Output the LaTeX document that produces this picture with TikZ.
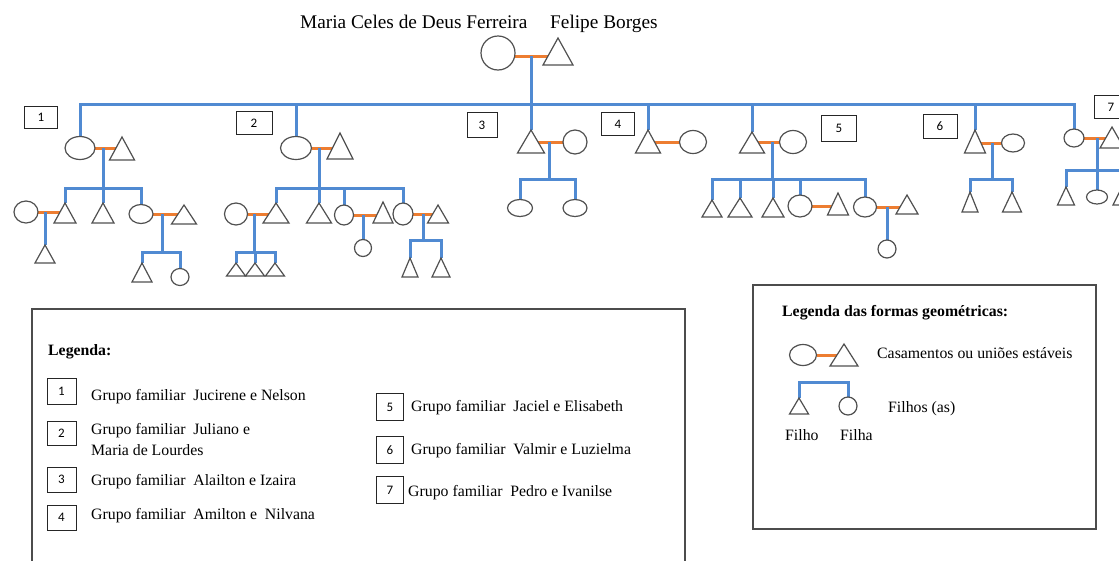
\documentclass[tikz,border=0pt]{standalone}
\usepackage{fontspec}
\setmainfont{Liberation Serif}
\newfontfamily\numfont{Carlito}
\usetikzlibrary{shapes.geometric,backgrounds}
\definecolor{kinblue}{RGB}{80,138,210}
\definecolor{wedorange}{RGB}{237,125,49}
\definecolor{outline}{RGB}{80,80,80}
\tikzset{
  fem/.style 2 args={ellipse, draw=outline, fill=white, line width=1.2pt,
    inner sep=0pt, outer sep=0pt, minimum width=#1, minimum height=#2},
  mas/.style 2 args={isosceles triangle, isosceles triangle stretches,
    shape border rotate=90, draw=outline, fill=white, line width=1.2pt,
    inner sep=0pt, outer sep=0pt, minimum width=#1, minimum height=#2, anchor=apex},
  kin/.style={draw=kinblue, line width=3pt},
  wed/.style={draw=wedorange, line width=3pt},
  numbox/.style 2 args={draw=black!85, line width=1pt, fill=white, inner sep=0pt,
    minimum width=#1, minimum height=#2, font=\numfont\fontsize{13}{15}\selectfont},
  legframe/.style={draw=black!70, line width=1.2pt, inner sep=0pt},
  lbl/.style={anchor=base west, inner sep=0pt, font=\fontsize{15.8}{18}\selectfont},
  legtitle/.style={anchor=base west, inner sep=0pt, font=\bfseries\fontsize{15.8}{18}\selectfont},
  founder/.style={anchor=base west, inner sep=0pt, font=\fontsize{19.3}{22}\selectfont},
}
\begin{document}
\begin{tikzpicture}[x=1pt, y=-1pt]
\useasboundingbox (0,0) rectangle (1119,560);

% ---- founding couple ----
\node[founder] (n-maria) at (300,28) {Maria Celes de Deus Ferreira};
\node[founder] (n-felipe) at (550,28) {Felipe Borges};
\node[fem={34pt}{34pt}] (F0) at (498,53) {};
\node[mas={30pt}{27pt}] (M0) at (558,38) {};
\coordinate (m0) at (531,56);
\coordinate (tb) at (0,104);

% ---- group 1 ----
\node[numbox={33pt}{22pt}] (g1) at (41,117) {1};
\node[fem={30pt}{23pt}] (G1f) at (80,148) {};
\node[mas={25pt}{23pt}] (G1m) at (122,137) {};
\coordinate (m1) at (G1f -| 103,0);
\coordinate (b1) at (0,188);
\node[fem={24pt}{22pt}] (A1s) at (26,212) {};
\node[mas={22pt}{20pt}] (A1) at (65,203) {};
\node[mas={22pt}{20pt}] (A2) at (103,203) {};
\node[fem={24pt}{19pt}] (A3f) at (141,214) {};
\node[mas={25pt}{19pt}] (A3m) at (184,205) {};
\coordinate (m11) at (A1s -| 45,0);
\node[mas={20pt}{18pt}] (A11) at (45,245) {};
\coordinate (m13) at (A3f -| 162,0);
\coordinate (b13) at (0,252);
\node[mas={20pt}{19pt}] (A31) at (142,263) {};
\node[fem={18pt}{17pt}] (A32) at (180,277) {};

% ---- group 2 ----
\node[numbox={36pt}{23pt}] (g2) at (254,123) {2};
\node[fem={31pt}{23pt}] (G2f) at (296,148) {};
\node[mas={26pt}{26pt}] (G2m) at (340,133) {};
\coordinate (m2) at (G2f -| 319,0);
\coordinate (b2) at (0,188);
\node[fem={23pt}{22pt}] (B1s) at (236,214) {};
\node[mas={26pt}{20pt}] (B1) at (276,203) {};
\node[mas={25pt}{20pt}] (B2) at (319,203) {};
\node[fem={19pt}{20pt}] (B3f) at (344,215) {};
\node[mas={20pt}{21pt}] (B3m) at (383,202) {};
\node[fem={20pt}{22pt}] (B4f) at (403,214) {};
\node[mas={21pt}{18pt}] (B4m) at (438,205) {};
\coordinate (m21) at (B1s -| 254,0);
\coordinate (b21) at (0,252);
\node[mas={19pt}{13pt}] (B11) at (236,263) {};
\node[mas={19pt}{13pt}] (B12) at (255,263) {};
\node[mas={19pt}{13pt}] (B13) at (275,263) {};
\coordinate (m23) at (B3f -| 363,0);
\node[fem={17pt}{17pt}] (B31) at (363,248) {};
\coordinate (m24) at (B4f -| 423,0);
\coordinate (b24) at (0,240);
\node[mas={16pt}{19pt}] (B41) at (410,258) {};
\node[mas={18pt}{19pt}] (B42) at (441,258) {};

% ---- group 3 ----
\node[numbox={30pt}{25pt}] (g3) at (482,125) {3};
\node[mas={27pt}{23pt}] (G3m) at (531,130) {};
\node[fem={24pt}{24pt}] (G3f) at (575,142) {};
\coordinate (m3) at (G3f -| 549,0);
\coordinate (b3) at (0,179);
\node[fem={25pt}{17pt}] (C1) at (520,208) {};
\node[fem={24pt}{17pt}] (C2) at (575,208) {};

% ---- group 4 ----
\node[numbox={33pt}{23pt}] (g4) at (618,124) {4};
\node[mas={25pt}{23pt}] (G4m) at (648,130) {};
\node[fem={27pt}{23pt}] (G4f) at (693,142) {};

% ---- group 5 ----
\node[numbox={35pt}{26pt}] (g5) at (839,128) {5};
\node[mas={25pt}{21pt}] (G5m) at (752,132) {};
\node[fem={27pt}{23pt}] (G5f) at (793,142) {};
\coordinate (m5) at (G5f -| 772,0);
\coordinate (b5) at (0,179);
\node[mas={20pt}{17pt}] (E1) at (712,200) {};
\node[mas={24pt}{19pt}] (E2) at (740,198) {};
\node[mas={22pt}{19pt}] (E3) at (773,198) {};
\node[fem={24pt}{22pt}] (E4f) at (800,206) {};
\node[mas={21pt}{22pt}] (E4m) at (838,193) {};
\node[fem={23pt}{20pt}] (E5f) at (865,207) {};
\node[mas={22pt}{19pt}] (E5m) at (907,195) {};
\coordinate (m55) at (E5f -| 887,0);
\node[fem={18pt}{18pt}] (E51) at (887,249) {};

% ---- group 6 ----
\node[numbox={34pt}{24pt}] (g6) at (940,126) {6};
\node[mas={21pt}{23pt}] (G6m) at (975,130) {};
\node[fem={23pt}{18pt}] (G6f) at (1013,143) {};
\coordinate (m6) at (G6f -| 992,0);
\coordinate (b6) at (0,179);
\node[mas={16pt}{20pt}] (D1) at (970,192) {};
\node[mas={19pt}{20pt}] (D2) at (1012,192) {};

% ---- group 7 ----
\node[numbox={34pt}{23pt}] (g7) at (1111,107) {7};
\node[fem={20pt}{18pt}] (G7f) at (1074,138) {};
\node[mas={24pt}{21pt}] (G7m) at (1112,127) {};
\coordinate (m7) at (G7f -| 1097,0);
\coordinate (b7) at (0,170);
\node[mas={17pt}{18pt}] (H1) at (1066,187) {};
\node[fem={21pt}{14pt}] (H2) at (1097,197) {};
\node[mas={18pt}{18pt}] (H3) at (1122,187) {};

% ---- legend of the family groups ----
\node[legframe, minimum width=653pt, minimum height=275pt] (legA) at (358.5,446.5) {};
\node[legtitle] (legA-title) at (48,355) {Legenda:};
\node[numbox={29pt}{26pt}] (k1) at (61.5,391.5) {1};
\node[numbox={29pt}{24pt}] (k2) at (61.5,433.5) {2};
\node[numbox={29pt}{25pt}] (k3) at (61.5,479.5) {3};
\node[numbox={29pt}{25pt}] (k4) at (61.5,517.5) {4};
\node[lbl] (k1t) at (91,400) {Grupo familiar\ \ Jucirene e Nelson};
\node[lbl] (k2t) at (91,434) {Grupo familiar\ \ Juliano e};
\node[lbl] (k2u) at (91,455) {Maria de Lourdes};
\node[lbl] (k3t) at (91,485) {Grupo familiar\ \ Alailton e Izaira};
\node[lbl] (k4t) at (91,519) {Grupo familiar\ \ Amilton e\ \ Nilvana};
\node[numbox={27pt}{27pt}] (k5) at (390,407) {5};
\node[numbox={27pt}{27pt}] (k6) at (390,450) {6};
\node[numbox={27pt}{27pt}] (k7) at (390,490) {7};
\node[lbl] (k5t) at (411,411) {Grupo familiar\ \ Jaciel e Elisabeth};
\node[lbl] (k6t) at (411,454) {Grupo familiar\ \ Valmir e Luzielma};
\node[lbl] (k7t) at (408,496) {Grupo familiar\ \ Pedro e Ivanilse};

% ---- legend of the symbols ----
\node[legframe, minimum width=343pt, minimum height=244pt] (legB) at (924.5,407) {};
\node[legtitle] (legB-title) at (782,316) {Legenda das formas geométricas:};
\node[fem={27pt}{21pt}] (K1) at (803,355) {};
\node[mas={28pt}{22pt}] (K2) at (844,344) {};
\node[lbl] (K12t) at (877,358) {Casamentos ou uniões estáveis};
\coordinate (kb) at (0,382);
\node[mas={19pt}{16pt}] (K3) at (799,398) {};
\node[fem={18pt}{18pt}] (K4) at (848,406) {};
\node[lbl] (K34t) at (888,412) {Filhos (as)};
\node[lbl] (K3t) at (785,440) {Filho};
\node[lbl] (K4t) at (840,440) {Filha};

% ---- connectors, under the symbols ----
\begin{pgfonlayer}{background}
\fill[white] (0,0) rectangle (1119,560);
% founding couple and its children
\draw[wed] (F0.center |- m0) -- (M0.apex |- m0);
\draw[kin] (m0) -- (G3m.apex);
\draw[kin] (G1f.north) -- (G1f.north |- tb) -- (G7f.north |- tb) -- (G7f.north);
\draw[kin] (G2f.north) -- (G2f.north |- tb);
\draw[kin] (G4m.apex) -- (G4m.apex |- tb);
\draw[kin] (G5m.apex) -- (G5m.apex |- tb);
\draw[kin] (G6m.apex) -- (G6m.apex |- tb);
% group 1
\draw[wed] (G1f) -- (G1m.apex |- G1f);
\draw[kin] (m1) -- (m1 |- b1);
\draw[kin] (A1.apex) -- (A1.apex |- b1) -- (A3f.north |- b1) -- (A3f.north);
\draw[kin] (A2.apex) -- (A2.apex |- b1);
\draw[wed] (A1s) -- (A1.apex |- A1s);
\draw[kin] (m11) -- (A11.apex);
\draw[wed] (A3f) -- (A3m.apex |- A3f);
\draw[kin] (m13) -- (m13 |- b13);
\draw[kin] (A31.apex) -- (A31.apex |- b13) -- (A32.north |- b13) -- (A32.north);
% group 2
\draw[wed] (G2f) -- (G2m.apex |- G2f);
\draw[kin] (m2) -- (m2 |- b2);
\draw[kin] (B1.apex) -- (B1.apex |- b2) -- (B4f.north |- b2) -- (B4f.north);
\draw[kin] (B2.apex) -- (B2.apex |- b2);
\draw[kin] (B3f.north) -- (B3f.north |- b2);
\draw[wed] (B1s) -- (B1.apex |- B1s);
\draw[kin] (m21) -- (m21 |- b21);
\draw[kin] (B11.apex) -- (B11.apex |- b21) -- (B13.apex |- b21) -- (B13.apex);
\draw[kin] (B12.apex) -- (B12.apex |- b21);
\draw[wed] (B3f) -- (B3m.apex |- B3f);
\draw[kin] (m23) -- (B31.north);
\draw[wed] (B4f) -- (B4m.apex |- B4f);
\draw[kin] (m24) -- (m24 |- b24);
\draw[kin] (B41.apex) -- (B41.apex |- b24) -- (B42.apex |- b24) -- (B42.apex);
% group 3
\draw[wed] (G3m.apex |- G3f) -- (G3f);
\draw[kin] (m3) -- (m3 |- b3);
\draw[kin] (C1.north) -- (C1.north |- b3) -- (C2.north |- b3) -- (C2.north);
% group 4
\draw[wed] (G4m.apex |- G4f) -- (G4f);
% group 5
\draw[wed] (G5m.apex |- G5f) -- (G5f);
\draw[kin] (m5) -- (m5 |- b5);
\draw[kin] (E1.apex) -- (E1.apex |- b5) -- (E5f.north |- b5) -- (E5f.north);
\draw[kin] (E2.apex) -- (E2.apex |- b5);
\draw[kin] (E3.apex) -- (E3.apex |- b5);
\draw[kin] (E4f.north) -- (E4f.north |- b5);
\draw[wed] (E4f) -- (E4m.apex |- E4f);
\draw[wed] (E5f) -- (E5m.apex |- E5f);
\draw[kin] (m55) -- (E51.north);
% group 6
\draw[wed] (G6m.apex |- G6f) -- (G6f);
\draw[kin] (m6) -- (m6 |- b6);
\draw[kin] (D1.apex) -- (D1.apex |- b6) -- (D2.apex |- b6) -- (D2.apex);
% group 7
\draw[wed] (G7f) -- (G7m.apex |- G7f);
\draw[kin] (m7) -- (H2.north);
\draw[kin] (H1.apex) -- (H1.apex |- b7) -- (H3.apex |- b7) -- (H3.apex);
% symbol legend
\draw[wed] (K1) -- (K2.apex |- K1);
\draw[kin] (K3.apex) -- (K3.apex |- kb) -- (K4.north |- kb) -- (K4.north);
\end{pgfonlayer}
\end{tikzpicture}
\end{document}
